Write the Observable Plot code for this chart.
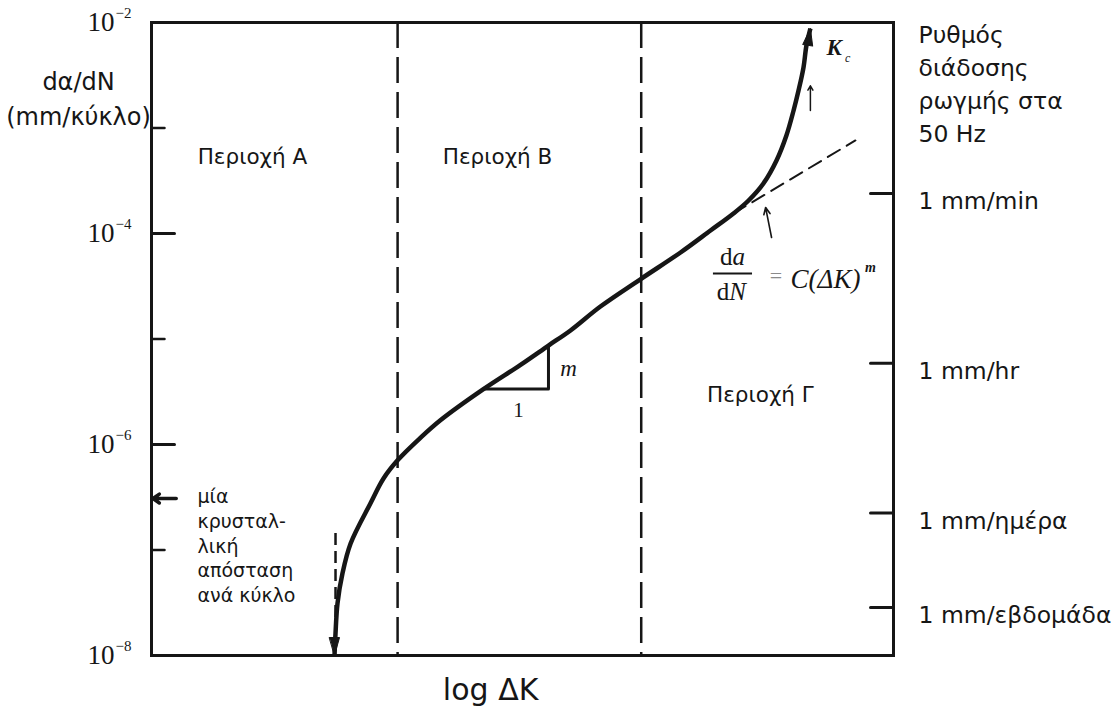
<!DOCTYPE html>
<html>
<head>
<meta charset="utf-8">
<script src="https://cdn.jsdelivr.net/npm/d3@7"></script>
<script src="https://cdn.jsdelivr.net/npm/@observablehq/plot@0.6"></script>
<style>
  html, body { margin: 0; padding: 0; background: #fff; }
  #chart svg { display: block; }
</style>
</head>
<body>
<div id="chart"></div>
<script>
// Fatigue crack growth curve: crack growth rate da/dN (log scale, mm/cycle)
// against log ΔK (arbitrary units), split into regions A, B and Γ.

// Main curve: log ΔK and log10(da/dN)
const curveLogK = [0.740, 0.744, 0.752, 0.772, 0.805, 0.885, 0.938, 0.995, 1.088, 1.168,
  1.342, 1.492, 1.605, 1.694, 1.815, 1.981, 2.139, 2.260, 2.353, 2.414,
  2.474, 2.527, 2.567, 2.596, 2.616, 2.636, 2.648, 2.664];
const curveLogRate = [-8.000, -7.791, -7.507, -7.223, -6.938, -6.559, -6.322, -6.150, -5.935, -5.770,
  -5.475, -5.245, -5.062, -4.919, -4.692, -4.427, -4.180, -3.972, -3.810, -3.687,
  -3.526, -3.308, -3.071, -2.834, -2.645, -2.427, -2.218, -2.057];

// Paris-law straight-line extension (dashed)
const parisLogK = [2.353, 2.846];
const parisLogRate = [-3.810, -3.118];

// Slope triangle on the linear part
const slopeLogK = [1.350, 1.605, 1.605];
const slopeLogRate = [-5.475, -5.475, -5.060];

// Region boundaries (log ΔK) and region names
const regionBounds = [0.995, 1.980];
const regionNames = ["Περιοχή Α", "Περιοχή Β", "Περιοχή Γ"];

// Threshold ΔK (vertical asymptote)
const thresholdLogK = [0.744];

// Left axis: decades of da/dN
const leftLabelExp = [-2, -4, -6, -8];
const leftMajorTicks = [-4, -6];
const leftMinorTicks = [-3, -5, -7];
const latticeSpacingRate = [-6.512];

// Right axis: growth rate at 50 Hz
const rightTicks = [-3.62, -5.23, -6.65, -7.545];
const rightLabels = ["1 mm/min", "1 mm/hr", "1 mm/ημέρα", "1 mm/εβδομάδα"];
const rightTitle = ["Ρυθμός", "διάδοσης", "ρωγμής στα", "50 Hz"];

const curve = curveLogK.map((k, i) => ({k, r: curveLogRate[i]}));
const paris = parisLogK.map((k, i) => ({k, r: parisLogRate[i]}));
const slope = slopeLogK.map((k, i) => ({k, r: slopeLogRate[i]}));

const INK = "#161616";
const SANS = "DejaVu Sans, Verdana, sans-serif";
const SERIF = "Liberation Serif, Times New Roman, serif";

// straight tick drawn from the anchor point
const tickShape = {draw(ctx, l) { ctx.moveTo(0, 0); ctx.lineTo(0, -l); }};
// filled arrowhead whose apex sits on the anchor point
const headShape = {draw(ctx, l, r) { ctx.moveTo(0, 0); ctx.lineTo(-r, l); ctx.lineTo(r, l); ctx.closePath(); }};

const plot = Plot.plot({
  width: 1120,
  height: 706,
  marginLeft: 151,
  marginRight: 227,
  marginTop: 22,
  marginBottom: 51,
  x: {domain: [0, 3], axis: null},
  y: {domain: [-8, -2], axis: null},
  style: {background: "#fff", color: INK, fontFamily: SANS, overflow: "visible"},
  marks: [
    // region boundaries
    Plot.ruleX(regionBounds, {stroke: INK, strokeWidth: 2.5, strokeDasharray: "26,9"}),
    // threshold asymptote
    Plot.ruleX(thresholdLogK, {y1: -6.844, y2: -7.85, stroke: INK, strokeWidth: 2.5, strokeDasharray: "12,6"}),
    // Paris-law extension
    Plot.line(paris, {x: "k", y: "r", stroke: INK, strokeWidth: 2, strokeDasharray: "14,8"}),
    // slope triangle
    Plot.line(slope, {x: "k", y: "r", stroke: INK, strokeWidth: 3}),
    Plot.text(["m"], {x: 1.686, y: -5.28, fontFamily: SERIF, fontStyle: "italic", fontSize: 23, fill: INK}),
    Plot.text(["1"], {x: 1.484, y: -5.68, fontFamily: SERIF, fontSize: 21, fill: INK}),
    // main curve
    Plot.line(curve, {x: "k", y: "r", stroke: INK, strokeWidth: 4.5, curve: "catmull-rom", strokeLinecap: "butt"}),
    Plot.vector([curve[0]], {x: "k", y: "r", rotate: 180, length: 18, r: 5, anchor: "start", shape: headShape, fill: INK, stroke: INK, strokeWidth: 1}),
    Plot.vector([curve[curve.length - 1]], {x: "k", y: "r", rotate: 9, length: 17, r: 5, anchor: "start", shape: headShape, fill: INK, stroke: INK, strokeWidth: 1}),
    // K_c
    Plot.arrow([0], {x1: 2.664, y1: -2.834, x2: 2.664, y2: -2.60, stroke: INK, strokeWidth: 1.5, headLength: 5}),
    Plot.text(["K"], {x: 2.760, y: -2.240, fontFamily: SERIF, fontStyle: "italic", fontWeight: "bold", fontSize: 23, fill: INK}),
    Plot.text(["c"], {x: 2.815, y: -2.340, fontFamily: SERIF, fontStyle: "italic", fontSize: 12, fill: INK}),
    // Paris law formula
    Plot.arrow([0], {x1: 2.507, y1: -4.038, x2: 2.483, y2: -3.754, stroke: INK, strokeWidth: 1.6, headLength: 7, headAngle: 50}),
    Plot.ruleY([-4.379], {x1: 2.272, x2: 2.430, stroke: INK, strokeWidth: 2}),
    Plot.text(["d"], {x: 2.349, y: -4.225, textAnchor: "end", fontFamily: SERIF, fontSize: 25, fill: INK}),
    Plot.text(["a"], {x: 2.349, y: -4.225, textAnchor: "start", fontFamily: SERIF, fontStyle: "italic", fontSize: 25, fill: INK}),
    Plot.text(["d"], {x: 2.336, y: -4.550, textAnchor: "end", fontFamily: SERIF, fontSize: 25, fill: INK}),
    Plot.text(["N"], {x: 2.336, y: -4.550, textAnchor: "start", fontFamily: SERIF, fontStyle: "italic", fontSize: 25, fill: INK}),
    Plot.text(["="], {x: 2.525, y: -4.40, fontFamily: SERIF, fontSize: 22, fill: "#8a8a8a"}),
    Plot.text(["C(ΔK)"], {x: 2.584, y: -4.43, textAnchor: "start", fontFamily: SERIF, fontStyle: "italic", fontSize: 27, fill: INK}),
    Plot.text(["m"], {x: 2.885, y: -4.32, textAnchor: "start", fontFamily: SERIF, fontStyle: "italic", fontWeight: "bold", fontSize: 14, fill: INK}),
    // region labels
    Plot.text([regionNames[0]], {x: 0.408, y: -3.28, fontSize: 21.5, fill: INK}),
    Plot.text([regionNames[1]], {x: 1.399, y: -3.28, fontSize: 21.5, fill: INK}),
    Plot.text([regionNames[2]], {x: 2.462, y: -5.536, fontSize: 21.5, fill: INK}),
    // lattice spacing marker
    Plot.arrow(latticeSpacingRate, {x1: 0.10, x2: 0.006, y1: d => d, y2: d => d, stroke: INK, strokeWidth: 3.5, headLength: 9, headAngle: 70}),
    Plot.text(["μία\nκρυσταλ-\nλική\nαπόσταση\nανά κύκλο"], {x: 0.186, y: -6.39, textAnchor: "start", lineAnchor: "top", lineHeight: 1.3, fontSize: 19, fill: INK}),
    // left axis ticks and labels
    Plot.vector(leftMajorTicks, {y: d => d, frameAnchor: "left", rotate: 90, length: 23, anchor: "start", shape: tickShape, stroke: INK, strokeWidth: 3}),
    Plot.vector(leftMinorTicks, {y: d => d, frameAnchor: "left", rotate: 90, length: 13, anchor: "start", shape: tickShape, stroke: INK, strokeWidth: 2.5}),
    Plot.text(leftLabelExp, {y: d => d, text: () => "10", frameAnchor: "left", textAnchor: "end", dx: -37, fontFamily: SERIF, fontSize: 27, fill: INK}),
    Plot.text(leftLabelExp, {y: d => d, text: d => "−" + Math.abs(d), frameAnchor: "left", textAnchor: "start", dx: -36, dy: -9, fontFamily: SERIF, fontSize: 15, fill: INK}),
    Plot.text(["dα/dN", "(mm/κύκλο)"], {x: -0.295, y: (d, i) => [-2.569, -2.90][i], fontSize: 24, fill: INK}),
    // right axis ticks and labels
    Plot.vector(rightTicks, {y: d => d, frameAnchor: "right", rotate: -90, length: 23, anchor: "start", shape: tickShape, stroke: INK, strokeWidth: 3}),
    Plot.text(rightLabels, {y: (d, i) => rightTicks[i], frameAnchor: "right", textAnchor: "start", dx: 25, dy: 8, fontSize: 23.5, fill: INK}),
    Plot.text([rightTitle.join("\n")], {frameAnchor: "top-right", textAnchor: "start", lineAnchor: "top", dx: 25, dy: -3, lineHeight: 1.4, fontSize: 23.5, fill: INK}),
    // x-axis title
    Plot.text(["log ΔK"], {x: 1.371, y: -8.332, fontSize: 30, fill: INK}),
    // frame
    Plot.frame({stroke: INK, strokeWidth: 3})
  ]
});

document.getElementById("chart").append(plot);
</script>
</body>
</html>
